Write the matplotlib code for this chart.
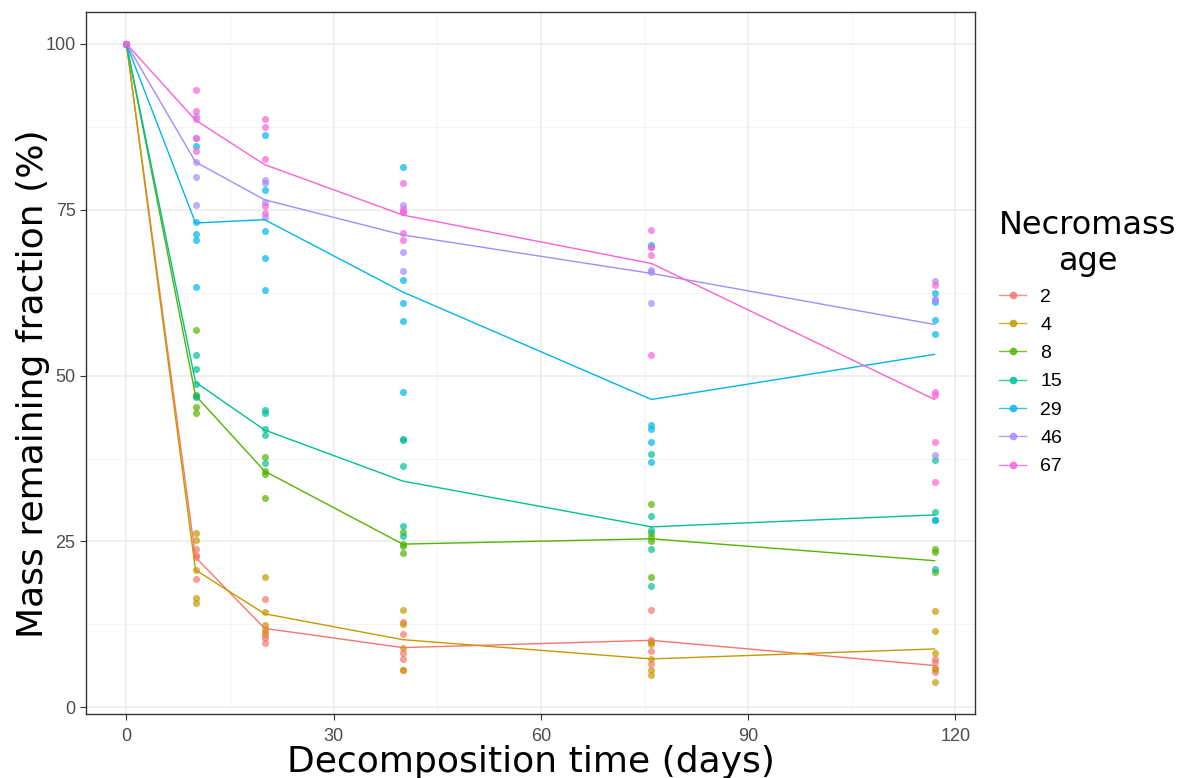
import matplotlib
matplotlib.use("Agg")
import matplotlib.pyplot as plt
from matplotlib.lines import Line2D
from matplotlib.ticker import MultipleLocator

# sampling days
days = [0, 10, 20, 40, 76, 117]
ages = ["2", "4", "8", "15", "29", "46", "67"]
colors = ["#F8766D", "#C49A00", "#53B400", "#00C094", "#00B6EB", "#A58AFF", "#FB61D7"]

# replicate values per age, one list per sampling day
reps_2 = [[100, 100, 100, 100], [23.9, 22.9, 22.6, 19.3], [16.3, 11.8, 10.9, 10.5, 9.7],
          [12.9, 11.0, 8.2, 7.3, 5.7], [14.6, 10.2, 8.5, 6.5], [7.3, 6.8, 6.0, 5.4]]
reps_4 = [[100, 100, 100, 100], [26.2, 25.2, 20.7, 16.5, 15.7], [19.6, 14.3, 12.4, 11.4],
          [14.6, 12.5, 9.0, 5.7], [9.9, 9.5, 7.3, 5.7, 4.8], [14.5, 11.5, 8.2, 5.8, 3.8]]
reps_8 = [[100, 100, 100, 100], [56.8, 47.0, 45.3, 44.3], [37.7, 35.6, 35.2, 31.6],
          [26.5, 24.6, 24.3, 23.2], [30.7, 26.3, 25.6, 25.1, 19.6], [23.9, 23.4, 20.4]]
reps_15 = [[100, 100, 100, 100], [53.1, 51.0, 48.8, 46.9, 46.7], [44.8, 44.3, 41.9, 41.0, 36.9],
           [40.5, 40.3, 36.4, 27.4, 25.8], [38.2, 28.9, 26.8, 23.8, 18.3], [37.3, 29.5, 28.3, 20.8]]
reps_29 = [[100, 100, 100, 100], [84.6, 73.2, 71.3, 70.4, 63.3], [86.3, 77.9, 71.8, 67.7, 62.9],
           [81.4, 64.4, 60.9, 58.2, 47.5], [69.7, 42.5, 42.0, 40.0, 37.0], [62.5, 61.1, 58.4, 56.3, 28.3]]
reps_46 = [[100, 100, 100, 100], [89.1, 85.8, 82.2, 79.9, 75.7], [79.5, 79.1, 76.2, 73.9],
           [75.7, 74.7, 68.6, 65.7], [69.4, 65.9, 65.6, 61.0], [64.2, 61.6, 61.4, 38.0]]
reps_67 = [[100, 100, 100, 100], [93.1, 89.9, 88.6, 85.8, 83.9], [88.6, 87.5, 82.7, 75.5, 74.5],
           [79.0, 75.1, 74.7, 71.5, 70.4], [71.9, 69.4, 68.1, 53.1], [63.6, 47.6, 47.1, 40.0, 34.0]]

# mean curves
mean_2 = [100, 22.6, 11.9, 9.0, 10.1, 6.3]
mean_4 = [100, 20.7, 14.1, 10.2, 7.3, 8.8]
mean_8 = [100, 47.0, 35.6, 24.6, 25.4, 22.1]
mean_15 = [100, 49.0, 41.8, 34.1, 27.2, 29.0]
mean_29 = [100, 73.0, 73.5, 62.6, 46.4, 53.2]
mean_46 = [100, 82.2, 76.5, 71.2, 65.4, 57.7]
mean_67 = [100, 88.5, 81.8, 74.2, 66.9, 46.4]

reps = [reps_2, reps_4, reps_8, reps_15, reps_29, reps_46, reps_67]
means = [mean_2, mean_4, mean_8, mean_15, mean_29, mean_46, mean_67]

fig = plt.figure(figsize=(11.8, 7.78), dpi=100)
ax = fig.add_axes([0.0729, 0.0823, 0.7534, 0.9023])

for r, m, c in zip(reps, means, colors):
    for d, vals in zip(days, r):
        ax.scatter([d] * len(vals), vals, s=26, color=c, alpha=0.7, linewidths=0, zorder=3)
    ax.plot(days, m, color=c, lw=1.0, zorder=4)

ax.set_xlim(-5.85, 122.85)
ax.set_ylim(-1.0, 104.8)
ax.xaxis.set_major_locator(MultipleLocator(30))
ax.xaxis.set_minor_locator(MultipleLocator(15))
ax.yaxis.set_major_locator(MultipleLocator(25))
ax.yaxis.set_minor_locator(MultipleLocator(12.5))
ax.grid(which="major", color="#EBEBEB", lw=1.1, zorder=0)
ax.grid(which="minor", color="#F2F2F2", lw=0.6, zorder=0)
ax.set_axisbelow(True)
ax.tick_params(which="major", length=4, width=0.8, color="#333333", labelcolor="#4D4D4D", labelsize=13)
ax.tick_params(axis="x", pad=6)
ax.tick_params(which="minor", length=0)
for lab in ax.get_xticklabels() + ax.get_yticklabels():
    lab.set_family("Liberation Sans")
for sp in ax.spines.values():
    sp.set_color("#333333")
    sp.set_linewidth(1.0)

ax.set_xlabel("Decomposition time (days)", fontsize=26, labelpad=0)
ax.set_ylabel("Mass remaining fraction (%)", fontsize=26, labelpad=-3)
ax.yaxis.label.set_y(0.47)

handles = [Line2D([0], [0], color=c, lw=1.0, marker="o", markersize=4.5, alpha=0.8) for c in colors]
leg = fig.legend(handles, ages, title="Necromass\nage", loc="upper left",
                 bbox_to_anchor=(0.832, 0.752), frameon=False,
                 prop={"family": "Liberation Sans", "size": 14},
                 title_fontsize=23, handlelength=1.4, labelspacing=0.55, handletextpad=0.7,
                 alignment="left")
leg.get_title().set_multialignment("center")

fig.savefig("out.png", dpi=100)
